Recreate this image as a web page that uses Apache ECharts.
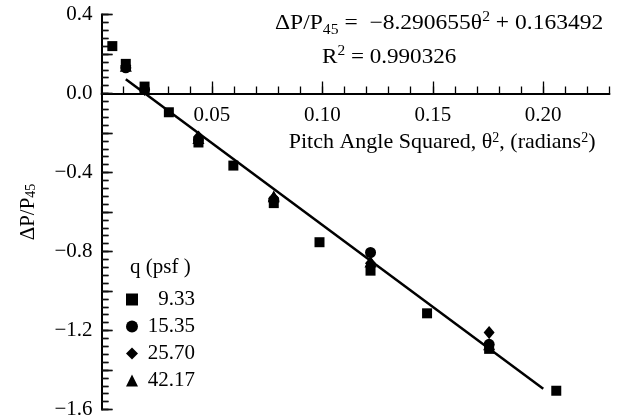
<!DOCTYPE html>
<html>
<head>
<meta charset="utf-8">
<script src="https://cdn.jsdelivr.net/npm/echarts@6/dist/echarts.min.js"></script>
<style>html,body{margin:0;padding:0;background:#fff}#c{width:620px;height:420px}</style>
</head>
<body>
<div id="c"></div>
<script>
// Pitch angle squared (radians^2) for all test points
var thetaSq = [0.0049, 0.011, 0.0195, 0.0305, 0.0439, 0.0597, 0.078, 0.0987, 0.1218, 0.1474, 0.1755, 0.2059];
// q = 9.33 psf
var q933 = [0.24, 0.15, 0.035, -0.095, -0.248, -0.365, -0.555, -0.753, -0.897, -1.113, -1.293, -1.505];
// subset of pitch angles for the other dynamic pressures
var thetaSqSub = [0.011, 0.0195, 0.0439, 0.078, 0.1218, 0.1755];
var q1535 = [0.13, 0.02, -0.235, -0.54, -0.805, -1.27];
var q2570 = [0.14, 0.02, -0.22, -0.53, -0.86, -1.21];
var q4217 = [0.14, 0.025, -0.225, -0.52, -0.85, -1.27];
// linear fit endpoints
var fitX = [0.011, 0.200];
var fitY = [0.072, -1.495];

var seriesNames = ['9.33', '15.35', '25.70', '42.17'];
var xMajorTicks = [0.05, 0.10, 0.15, 0.20];
var yMajorTicks = [-1.6, -1.4, -1.2, -1.0, -0.8, -0.6, -0.4, -0.2, 0.0, 0.2, 0.4];

function pairs(xs, ys) { return xs.map(function (x, i) { return [x, ys[i]]; }); }

var FONT = 'Liberation Serif';
var FS = 21;
var chart = echarts.init(document.getElementById('c'), null, {renderer: 'canvas'});

var richBase = {
  sub: {fontFamily: FONT, fontSize: 14, lineHeight: 14, verticalAlign: 'bottom', color: '#000'},
  sup: {fontFamily: FONT, fontSize: 14, lineHeight: 14, verticalAlign: 'top', color: '#000'},
  n: {fontFamily: FONT, fontSize: FS, lineHeight: 27, color: '#000'}
};

function near(v, step) { var k = Math.round(v / step); return Math.abs(v - k * step) < 1e-6; }
function fmtX(v) { return (v > 1e-6 && near(v, 0.05)) ? v.toFixed(2) : ''; }
function fmtY(v) {
  if (!near(v, 0.4)) return '';
  var s = Math.abs(v).toFixed(1);
  return v < -1e-6 ? '\u2212' + s : s;
}

function tickStyle() { return {color: '#000', width: 1.3}; }
function yTickStyle() { return {color: '#111111', width: 1.4, opacity: 1}; }
function gridBox(extra) {
  var g = {left: 101.5, top: 14.5, bottom: 10.5, outerBoundsMode: 'none', containLabel: false};
  for (var k in extra) g[k] = extra[k];
  return g;
}
// y-axis tick strip: split lines spanning only a narrow strip next to the axis line
function tickStripY(gridIndex, interval) {
  return {
    gridIndex: gridIndex, type: 'value', min: -1.6, max: 0.4, interval: interval, show: true,
    axisLine: {show: false}, axisTick: {show: false}, axisLabel: {show: false},
    splitLine: {show: true, showMinLine: true, showMaxLine: true, lineStyle: {color: '#111111', width: 1.4, type: 'solid'}}
  };
}
function hiddenX(gridIndex) { return {gridIndex: gridIndex, type: 'value', min: 0, max: 0.23, show: false}; }

chart.setOption({
  animation: false,
  backgroundColor: '#fff',
  grid: [
    gridBox({right: 10.5}),
    {left: 101.5, right: 10.5, top: 14.5, height: 79, outerBoundsMode: 'none', containLabel: false},
    gridBox({right: 10.5}),
    gridBox({width: 7}),
    gridBox({width: 11})
  ],
  xAxis: [hiddenX(0), {
    gridIndex: 1, type: 'value', min: 0, max: 0.23, interval: 0.01, position: 'bottom',
    axisLine: {show: true, onZero: false, lineStyle: {color: '#000', width: 2}},
    axisTick: {show: true, inside: true, length: 7, lineStyle: tickStyle()},
    axisLabel: {show: true, margin: 11, color: '#000', fontFamily: FONT, fontSize: FS, formatter: fmtX},
    splitLine: {show: false},
    name: 'Pitch Angle Squared, \u03b8{sup|2}, (radians{sup|2})',
    nameLocation: 'end', nameGap: -14,
    nameTextStyle: {align: 'right', verticalAlign: 'top', padding: [38, 0, 0, 0], fontFamily: FONT, fontSize: 22, color: '#000',
      rich: {sup: richBase.sup, n: {fontFamily: FONT, fontSize: 22, lineHeight: 27, color: '#000'}}}
  }, {
    gridIndex: 1, type: 'value', min: 0, max: 0.23, position: 'bottom',
    axisLine: {show: false, onZero: false},
    axisTick: {show: true, inside: true, length: 12, customValues: xMajorTicks, lineStyle: tickStyle()},
    axisLabel: {show: false},
    splitLine: {show: false}
  }, hiddenX(2), hiddenX(3), hiddenX(4)],
  yAxis: [{
    gridIndex: 0, type: 'value', min: -1.6, max: 0.4, show: false
  }, {
    gridIndex: 1, type: 'value', min: 0, max: 1, show: false
  }, {
    gridIndex: 2, type: 'value', min: -1.6, max: 0.4, interval: 0.04, position: 'left',
    axisLine: {show: true, onZero: false, lineStyle: {color: '#000', width: 2}},
    axisTick: {show: true, inside: false, length: -7, lineStyle: yTickStyle()},
    axisLabel: {show: true, margin: 9, color: '#000', fontFamily: FONT, fontSize: FS, formatter: fmtY},
    splitLine: {show: false},
    name: '\u0394P/P{sub|45}', nameLocation: 'middle', nameGap: 63, nameRotate: 90,
    nameTextStyle: {fontFamily: FONT, fontSize: FS, color: '#000', rich: richBase}
  }, {
    gridIndex: 2, type: 'value', min: -1.6, max: 0.4, position: 'left',
    axisLine: {show: false, onZero: false},
    axisTick: {show: true, inside: false, length: -11, customValues: yMajorTicks, lineStyle: yTickStyle()},
    axisLabel: {show: false},
    splitLine: {show: false}
  }, tickStripY(3, 0.04), tickStripY(4, 0.2)],
  legend: {
    orient: 'vertical', left: 121, top: 284, itemWidth: 12, itemHeight: 12, itemGap: 6,
    data: seriesNames,
    formatter: function (name) { return '{r|' + name + '}'; },
    textStyle: {color: '#000', fontFamily: FONT, fontSize: FS,
      rich: {r: {width: 52, align: 'right', fontFamily: FONT, fontSize: FS, lineHeight: 21, color: '#000'}}}
  },
  graphic: [
    {type: 'text', left: 130, top: 257, style: {text: 'q (psf )', font: FS + 'px "Liberation Serif"', fill: '#000'}},
    {type: 'text', left: 275, top: 10, scaleX: 1.12, style: {
      text: '{n|\u0394P/P}{sub|45}{n| =  \u22128.290655\u03b8}{sup|2}{n| + 0.163492}',
      rich: richBase, fill: '#000'}},
    {type: 'text', left: 322, top: 44, scaleX: 1.1, style: {
      text: '{n|R}{sup|2}{n| = 0.990326}',
      rich: richBase, fill: '#000'}}
  ],
  series: [
    {name: 'fit', type: 'line', xAxisIndex: 0, yAxisIndex: 0, data: pairs(fitX, fitY), symbol: 'none', silent: true,
      lineStyle: {color: '#000', width: 2.5}, z: 1},
    {name: seriesNames[1], type: 'scatter', xAxisIndex: 0, yAxisIndex: 0, data: pairs(thetaSqSub, q1535), symbol: 'circle', symbolSize: 11,
      itemStyle: {color: '#000', opacity: 1}},
    {name: seriesNames[2], type: 'scatter', xAxisIndex: 0, yAxisIndex: 0, data: pairs(thetaSqSub, q2570), symbol: 'diamond', symbolSize: [11, 13],
      itemStyle: {color: '#000', opacity: 1}},
    {name: seriesNames[3], type: 'scatter', xAxisIndex: 0, yAxisIndex: 0, data: pairs(thetaSqSub, q4217), symbol: 'triangle', symbolSize: 12,
      itemStyle: {color: '#000', opacity: 1}},
    {name: seriesNames[0], type: 'scatter', xAxisIndex: 0, yAxisIndex: 0, data: pairs(thetaSq, q933), symbol: 'rect', symbolSize: 10,
      itemStyle: {color: '#000', opacity: 1}}
  ]
});
</script>
</body>
</html>
